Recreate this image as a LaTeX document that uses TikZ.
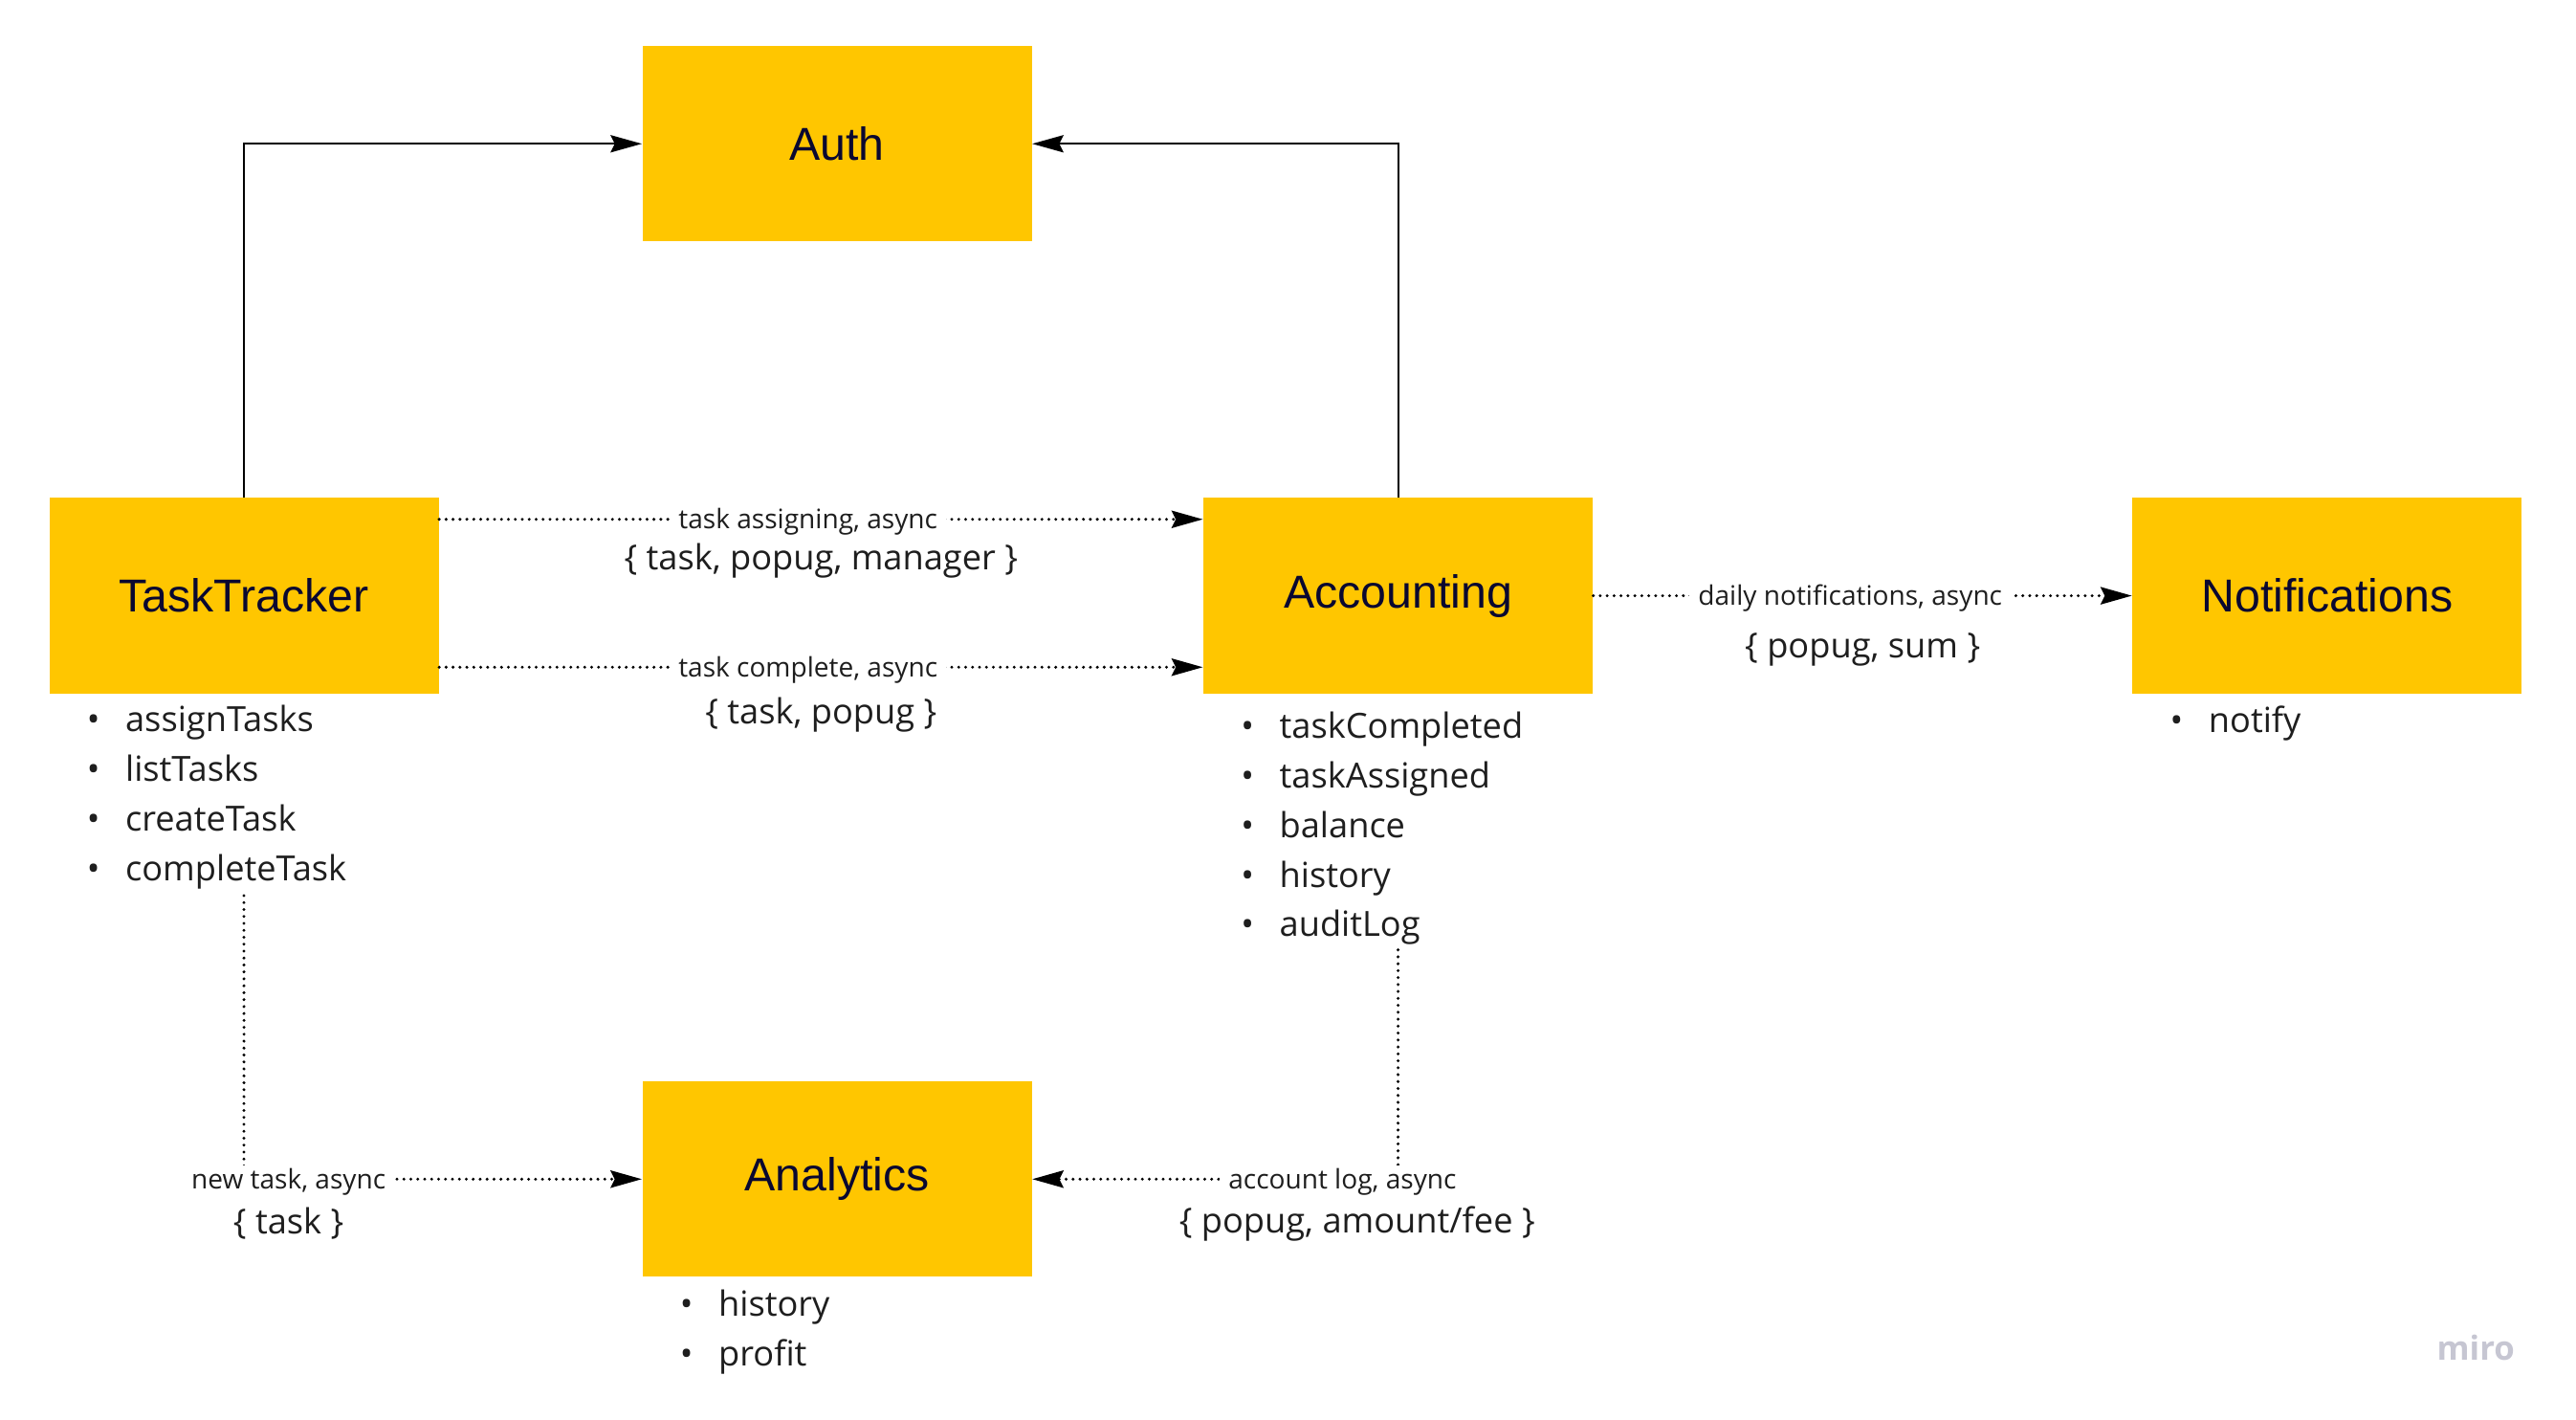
\documentclass[tikz,border=0pt]{standalone}
\usepackage{fontspec}
\usepackage{xcolor}
\usepackage{tikz}
\usetikzlibrary{arrows.meta}
\setmainfont{Open Sans}
\newfontfamily\boxfont{Liberation Sans}
\definecolor{miroyellow}{HTML}{FFC600}
\definecolor{inkblue}{HTML}{0A0830}
\definecolor{textgray}{HTML}{1E1E1E}
\definecolor{logogray}{HTML}{C6C6D2}
\newcommand{\bul}{\makebox[0.47cm][l]{\textbullet}}

\begin{document}
\begin{tikzpicture}[x=0.02cm, y=-0.02cm,
	service/.style={fill=miroyellow, minimum width=4.74cm, minimum height=2.38cm, inner sep=0pt, font=\boxfont\fontsize{16}{19}\selectfont, text=inkblue},
	items/.style={anchor=base west, align=left, inner sep=0pt, font=\fontsize{12}{17.2}\selectfont, text=textgray},
	sync/.style={line width=0.7pt, -{Stealth[length=0.38cm, width=0.21cm, inset=0.05cm]}},
	async/.style={line width=1.1pt, line cap=round, dash pattern=on 0pt off 2.4pt, -{Stealth[length=0.38cm, width=0.21cm, inset=0.05cm]}},
	msg/.style={fill=white, inner xsep=3pt, inner ysep=1pt, yshift=-0.03cm, font=\fontsize{9.3}{11}\selectfont, text=textgray},
	payload/.style={inner sep=0pt, font=\fontsize{12}{14}\selectfont, text=textgray}]
			\useasboundingbox (0,0) rectangle (1568,864);
			\node[service] (auth) at (509.5,87.5) {Auth};
			\node[service] (tt) at (148.5,362.5) {TaskTracker};
			\node[service] (acc) at (851,362.5) {Accounting};
			\node[service] (notif) at (1416.5,362.5) {Notifications};
			\node[service] (ana) at (509.5,717.5) {Analytics};
			\node[items] (ttlist) at (52.5,536) {\bul assignTasks\\\bul listTasks\\\bul createTask\\\bul completeTask};
			\node[items] (acclist) at (755,570) {\bul taskCompleted\\\bul taskAssigned\\\bul balance\\\bul history\\\bul auditLog};
			\node[items] (notiflist) at (1320.5,446) {\bul notify};
			\node[items] (analist) at (413.5,831) {\bul history\\\bul profit};
			\coordinate (ttout) at (148.5,545);
			\coordinate (accout) at (851,578);
			\draw[sync] (tt.north) |- (auth.west);
			\draw[sync] (acc.north) |- (auth.east);
			\draw[async] ([yshift=0.93cm]tt.east) -- node[msg, pos=.483] {task assigning, async} node[payload, pos=.5, yshift=-0.5cm] {\{ task, popug, manager \}} ([yshift=0.93cm]acc.west);
			\draw[async] ([yshift=-0.87cm]tt.east) -- node[msg, pos=.483] {task complete, async} node[payload, pos=.5, yshift=-0.58cm] {\{ task, popug \}} ([yshift=-0.87cm]acc.west);
			\draw[async] (acc.east) -- node[msg, pos=.477] {daily notifications, async} node[payload, pos=.5, yshift=-0.66cm] {\{ popug, sum \}} (notif.west);
			\draw[async] (ttout) |- node[msg, pos=.556] {new task, async} node[payload, pos=.556, yshift=-0.54cm] {\{ task \}} (ana.west);
			\draw[async] (accout) |- node[msg, pos=.576] {account log, async} node[payload, pos=.556, yshift=-0.54cm] {\{ popug, amount/fee \}} (ana.east);
			\node[font=\bfseries\fontsize{11.5}{12}\selectfont, text=logogray] (logo) at (1507,820) {miro};
		\end{tikzpicture}
\end{document}
